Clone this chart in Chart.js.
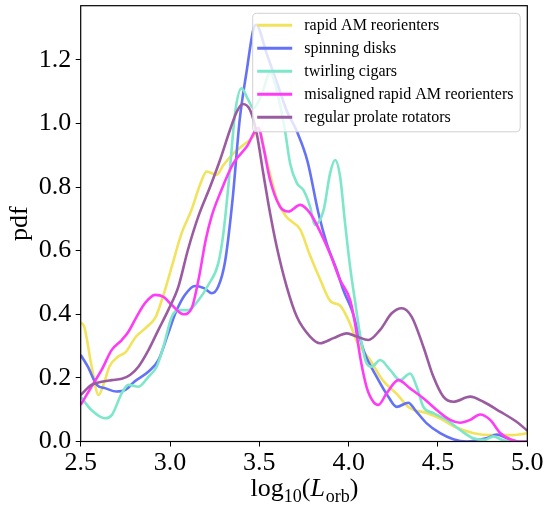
<!DOCTYPE html>
<html>
<head>
<meta charset="utf-8">
<script src="https://cdn.jsdelivr.net/npm/chart.js@4.4.0/dist/chart.umd.min.js"></script>
<style>
  html, body { margin: 0; padding: 0; background: #fff; }
</style>
</head>
<body>
<canvas id="kde" width="546" height="508"></canvas>
<script>
// tick values
const xTicks = [2.5, 3.0, 3.5, 4.0, 4.5, 5.0];
const yTicks = [0.0, 0.2, 0.4, 0.6, 0.8, 1.0, 1.2];

const seriesNames = [
  'rapid AM reorienters',
  'spinning disks',
  'twirling cigars',
  'misaligned rapid AM reorienters',
  'regular prolate rotators'
];
const seriesColors = ['#f2e35c', '#6472f7', '#7ee6c9', '#ff3cf5', '#9b5ba1'];

// [log10(Lorb), pdf]
const rapidAM = [[2.5,0.374],[2.52,0.36],[2.56,0.24],[2.6,0.146],[2.636,0.193],[2.66,0.235],[2.71,0.267],[2.75,0.28],[2.81,0.33],[2.87,0.36],[2.92,0.392],[2.96,0.455],[3.01,0.55],[3.065,0.655],[3.12,0.728],[3.17,0.81],[3.205,0.849],[3.26,0.838],[3.3,0.87],[3.355,0.906],[3.41,0.932],[3.465,0.958],[3.495,0.985],[3.54,0.885],[3.6,0.759],[3.65,0.707],[3.73,0.665],[3.78,0.59],[3.84,0.51],[3.9,0.44],[3.95,0.428],[4.0,0.38],[4.05,0.31],[4.12,0.256],[4.19,0.193],[4.27,0.149],[4.34,0.106],[4.44,0.089],[4.51,0.073],[4.59,0.047],[4.7,0.026],[4.81,0.02],[4.92,0.02],[5.0,0.026]];
const spinningDisks = [[2.5,0.272],[2.54,0.235],[2.59,0.178],[2.64,0.167],[2.7,0.157],[2.75,0.162],[2.8,0.188],[2.88,0.22],[2.935,0.256],[2.99,0.34],[3.03,0.403],[3.084,0.461],[3.14,0.489],[3.19,0.482],[3.234,0.466],[3.27,0.487],[3.308,0.565],[3.35,0.76],[3.39,1.011],[3.43,1.168],[3.466,1.294],[3.482,1.31],[3.54,1.221],[3.6,1.126],[3.653,1.04],[3.71,0.975],[3.77,0.88],[3.83,0.72],[3.877,0.623],[3.933,0.539],[3.97,0.476],[4.02,0.41],[4.055,0.34],[4.09,0.277],[4.156,0.204],[4.222,0.141],[4.269,0.109],[4.334,0.122],[4.372,0.099],[4.437,0.057],[4.512,0.026],[4.586,0.007],[4.66,0.0],[4.77,0.01],[4.83,0.022],[4.886,0.01],[4.95,0.0],[5.0,0.0]];
const twirlingCigars = [[2.5,0.141],[2.56,0.099],[2.636,0.073],[2.674,0.083],[2.73,0.152],[2.767,0.178],[2.823,0.172],[2.88,0.204],[2.925,0.235],[2.963,0.298],[3.01,0.392],[3.047,0.413],[3.1,0.413],[3.16,0.445],[3.214,0.492],[3.27,0.56],[3.3,0.66],[3.336,0.86],[3.364,1.032],[3.4,1.11],[3.438,1.074],[3.466,1.048],[3.513,1.09],[3.56,1.159],[3.606,1.084],[3.644,0.976],[3.672,0.875],[3.71,0.812],[3.747,0.79],[3.784,0.738],[3.81,0.681],[3.86,0.728],[3.896,0.843],[3.924,0.885],[3.952,0.833],[3.98,0.686],[4.008,0.55],[4.036,0.44],[4.064,0.335],[4.1,0.246],[4.129,0.235],[4.176,0.256],[4.232,0.225],[4.288,0.193],[4.344,0.214],[4.381,0.172],[4.418,0.109],[4.474,0.089],[4.55,0.068],[4.624,0.036],[4.698,0.01],[4.76,0.005],[4.81,0.016],[4.87,0.003],[5.0,0.0]];
const misalignedAM = [[2.5,0.115],[2.56,0.172],[2.617,0.225],[2.674,0.288],[2.73,0.319],[2.767,0.345],[2.813,0.392],[2.86,0.435],[2.916,0.461],[2.963,0.455],[3.01,0.429],[3.075,0.4],[3.121,0.419],[3.16,0.51],[3.2,0.634],[3.234,0.71],[3.28,0.78],[3.355,0.875],[3.43,0.927],[3.494,0.985],[3.522,0.927],[3.56,0.822],[3.616,0.738],[3.663,0.723],[3.728,0.744],[3.784,0.718],[3.84,0.66],[3.896,0.59],[3.952,0.508],[4.008,0.445],[4.036,0.37],[4.064,0.267],[4.1,0.172],[4.138,0.125],[4.166,0.115],[4.213,0.152],[4.278,0.193],[4.344,0.167],[4.418,0.136],[4.493,0.099],[4.568,0.068],[4.624,0.059],[4.68,0.068],[4.736,0.085],[4.792,0.068],[4.85,0.026],[4.904,0.007],[4.95,0.0],[5.0,0.0]];
const prolateRotators = [[2.5,0.146],[2.56,0.178],[2.617,0.188],[2.674,0.193],[2.73,0.197],[2.776,0.209],[2.823,0.235],[2.88,0.288],[2.935,0.351],[2.99,0.413],[3.047,0.487],[3.1,0.602],[3.16,0.71],[3.224,0.8],[3.28,0.885],[3.336,0.98],[3.374,1.037],[3.407,1.061],[3.448,1.042],[3.485,0.969],[3.522,0.843],[3.56,0.718],[3.597,0.613],[3.653,0.487],[3.71,0.392],[3.784,0.33],[3.84,0.309],[3.915,0.325],[3.99,0.34],[4.045,0.33],[4.11,0.319],[4.176,0.351],[4.241,0.403],[4.297,0.419],[4.353,0.392],[4.418,0.298],[4.474,0.204],[4.53,0.141],[4.586,0.125],[4.68,0.141],[4.754,0.125],[4.848,0.094],[4.94,0.062],[5.0,0.034]];

const allSeries = [rapidAM, spinningDisks, twirlingCigars, misalignedAM, prolateRotators];

const SERIF = '"Liberation Serif", "DejaVu Serif", serif';

// frame, legend inside the axes, x label with subscripts
const extras = {
  id: 'extras',
  afterDatasetsDraw(chart) {
    const ctx = chart.ctx;
    const a = chart.chartArea;
    ctx.save();
    ctx.strokeStyle = '#000';
    ctx.lineWidth = 1.2;
    ctx.strokeRect(a.left, a.top, a.right - a.left, a.bottom - a.top);

    // legend box
    const bx = a.left + 172, by = a.top + 7.6, bw = 267.5, bh = 118.5;
    ctx.beginPath();
    ctx.roundRect(bx, by, bw, bh, 4);
    ctx.fillStyle = 'rgba(255,255,255,0.8)';
    ctx.fill();
    ctx.strokeStyle = '#d0d0d0';
    ctx.lineWidth = 1;
    ctx.stroke();
    ctx.font = '16px ' + SERIF;
    ctx.textBaseline = 'middle';
    ctx.textAlign = 'left';
    seriesNames.forEach((name, i) => {
      const y = by + 12 + i * 23;
      ctx.beginPath();
      ctx.moveTo(bx + 4.5, y);
      ctx.lineTo(bx + 39.5, y);
      ctx.strokeStyle = seriesColors[i];
      ctx.lineWidth = 3;
      ctx.stroke();
      ctx.fillStyle = '#000';
      ctx.fillText(name, bx + 51.5, y);
    });
    ctx.restore();
  },
  afterDraw(chart) {
    const ctx = chart.ctx;
    const a = chart.chartArea;
    const big = '26px ' + SERIF, small = '18px ' + SERIF, ital = 'italic 26px ' + SERIF;
    const parts = [
      ['log', big, 0], ['10', small, 6], ['(', big, 0],
      ['L', ital, 0], ['orb', small, 6], [')', big, 0]
    ];
    ctx.save();
    let total = 0;
    parts.forEach(p => { ctx.font = p[1]; total += ctx.measureText(p[0]).width; });
    let x = (a.left + a.right) / 2 - total / 2;
    const base = 496;
    ctx.fillStyle = '#000';
    ctx.textBaseline = 'alphabetic';
    parts.forEach(p => {
      ctx.font = p[1];
      ctx.fillText(p[0], x, base + p[2]);
      x += ctx.measureText(p[0]).width + (p[0] === 'L' ? 1 : 0);
    });
    ctx.restore();
  }
};

new Chart(document.getElementById('kde'), {
  type: 'line',
  data: {
    datasets: allSeries.map((s, i) => ({
      label: seriesNames[i],
      data: s.map(([x, y]) => ({ x, y })),
      borderColor: seriesColors[i],
      borderWidth: 2.6,
      pointRadius: 0,
      fill: false,
      cubicInterpolationMode: 'monotone',
      order: allSeries.length - i
    }))
  },
  options: {
    responsive: false,
    animation: false,
    devicePixelRatio: 1,
    layout: { padding: { top: 5.7, right: 18.7, left: 0, bottom: 0 } },
    plugins: { legend: { display: false }, tooltip: { enabled: false } },
    scales: {
      x: {
        type: 'linear',
        min: 2.5,
        max: 5.0,
        afterBuildTicks: s => { s.ticks = xTicks.map(v => ({ value: v })); },
        afterFit: s => { s.height = 66.5; s.paddingLeft = 0; s.paddingRight = 0; },
        ticks: {
          autoSkip: false,
          maxRotation: 0,
          padding: 1,
          color: '#000',
          font: { family: SERIF, size: 26 },
          callback: v => v.toFixed(1)
        },
        grid: { drawOnChartArea: false, tickLength: 5, color: '#000' },
        border: { display: false }
      },
      y: {
        min: 0,
        max: 1.37,
        afterBuildTicks: s => { s.ticks = yTicks.map(v => ({ value: v })); },
        afterFit: s => { s.width = 80.7; s.paddingTop = 0; s.paddingBottom = 0; },
        ticks: {
          padding: 4.5,
          color: '#000',
          font: { family: SERIF, size: 26 },
          callback: v => v.toFixed(1)
        },
        grid: { drawOnChartArea: false, tickLength: 5, color: '#000' },
        border: { display: false },
        title: {
          display: true,
          text: 'pdf',
          color: '#000',
          font: { family: SERIF, size: 26 },
          padding: { top: 5, bottom: 0 }
        }
      }
    }
  },
  plugins: [extras]
});
</script>
</body>
</html>
